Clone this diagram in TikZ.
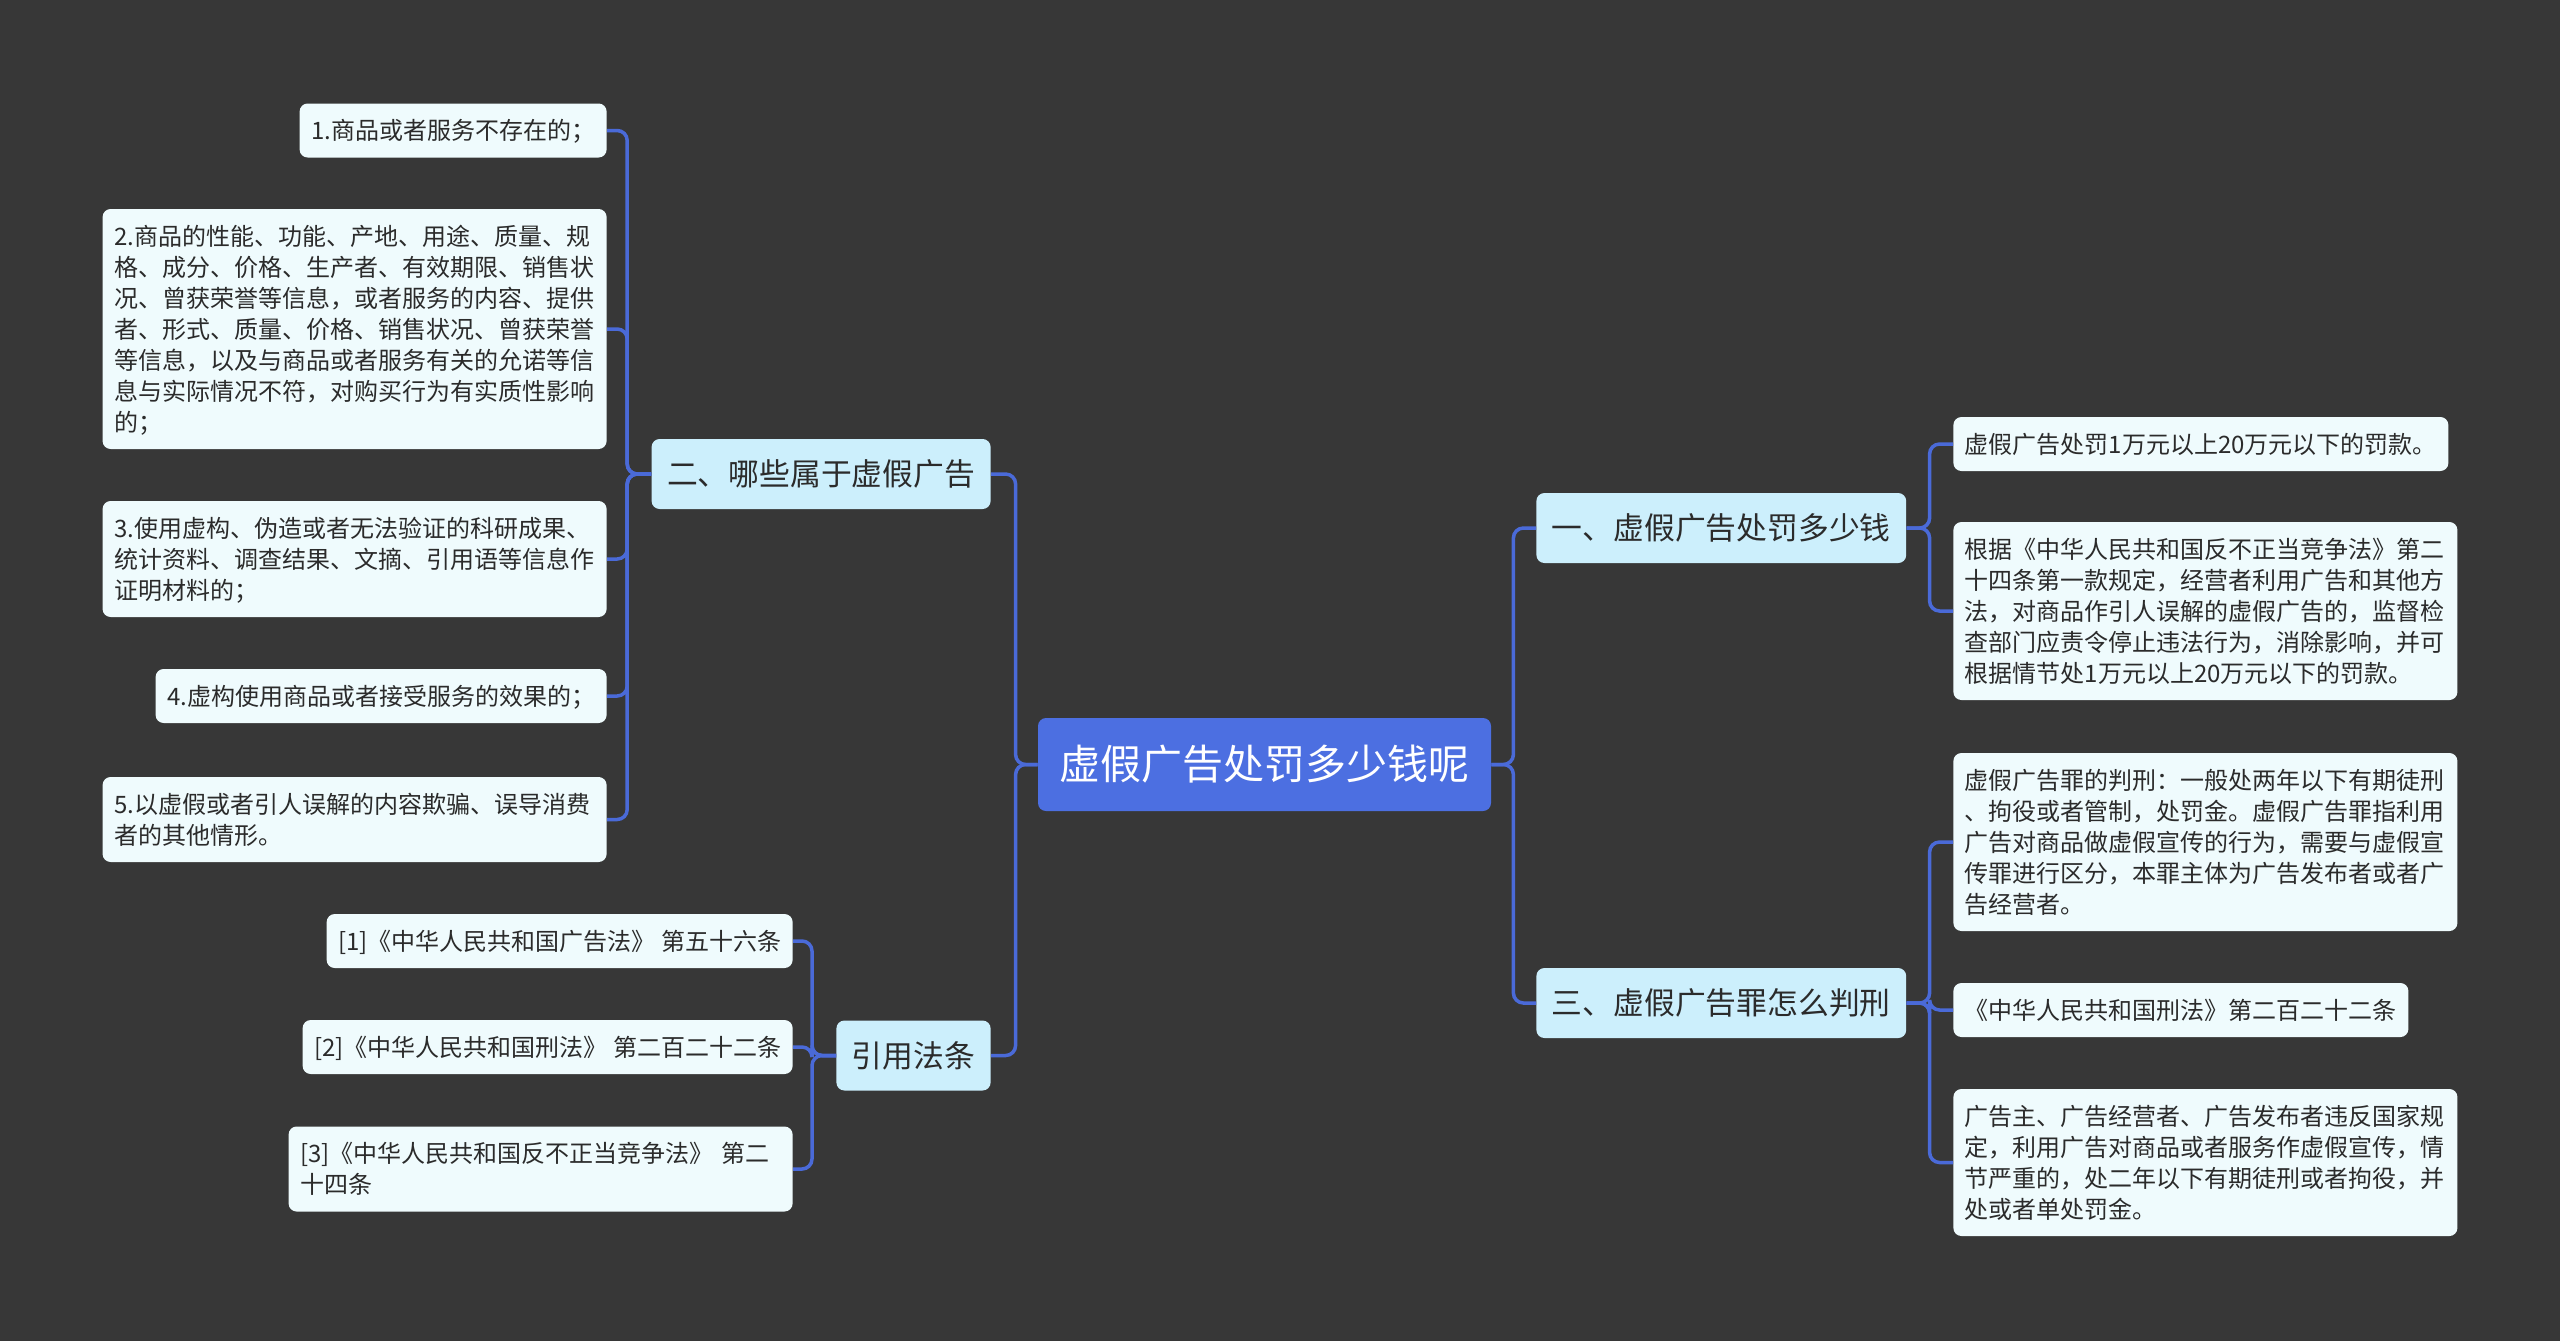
\documentclass[tikz,border=0pt]{standalone}
\usepackage{fontspec}
\setmainfont{Noto Sans CJK SC}
\usepackage{xcolor}
\usepackage{tikz}
\usetikzlibrary{positioning,calc}
\definecolor{bgGray}{HTML}{373737}
\definecolor{rootBlue}{HTML}{4C6FE1}
\definecolor{branchCyan}{HTML}{CCEFFC}
\definecolor{leafWhite}{HTML}{EFFBFD}
\definecolor{lineBlue}{HTML}{4A6AD8}
\definecolor{textDark}{HTML}{2B2B2B}
\newcommand{\linestrut}{\rule[-3.2pt]{0pt}{15.5pt}}

\begin{document}
\begin{tikzpicture}[x=0.5pt,y=-0.5pt,
      rootbox/.style={fill=rootBlue,text=white,rounded corners=4pt,font=\fontsize{20.5}{24}\selectfont,inner xsep=10.75pt,minimum height=46.5pt},
      branch/.style={fill=branchCyan,text=textDark,rounded corners=4pt,font=\fontsize{15.4}{18}\selectfont,inner xsep=7.75pt,minimum height=35pt},
      leaf/.style={fill=leafWhite,text=textDark,rounded corners=4pt,font=\fontsize{12}{15.5}\selectfont,align=left,inner xsep=5.75pt,inner ysep=5.75pt,
        execute at begin node=\linestrut,execute at end node=\linestrut},
      wideleaf/.style={leaf,text width=240.5pt},
      link/.style={draw=lineBlue,line width=1.75pt,rounded corners=5pt}]
    \fill[bgGray] (0,0) rectangle (2560,1341);
    \useasboundingbox (0,0) rectangle (2560,1341);

    \node[rootbox] (root) at (1264.5,764.5) {虚假广告处罚多少钱呢};

    \node[branch,anchor=west] (g1) at (1536,528) {一、虚假广告处罚多少钱};
    \node[branch,anchor=west] (g3) at (1536,1003) {三、虚假广告罪怎么判刑};
    \node[branch,anchor=east] (g2) at (991,474) {二、哪些属于虚假广告};
    \node[branch,anchor=east] (g4) at (991,1055.5) {引用法条};

    \node[leaf,anchor=east] (l1) at (607,130.5) {1.商品或者服务不存在的；};
    \node[wideleaf,anchor=east] (l2) at (607,329) {2.商品的性能、功能、产地、用途、质量、规\\
      格、成分、价格、生产者、有效期限、销售状\\
      况、曾获荣誉等信息，或者服务的内容、提供\\
      者、形式、质量、价格、销售状况、曾获荣誉\\
      等信息，以及与商品或者服务有关的允诺等信\\
      息与实际情况不符，对购买行为有实质性影响\\
      的；};
    \node[wideleaf,anchor=east] (l3) at (607,559) {3.使用虚构、伪造或者无法验证的科研成果、\\
      统计资料、调查结果、文摘、引用语等信息作\\
      证明材料的；};
    \node[leaf,anchor=east] (l4) at (607,696) {4.虚构使用商品或者接受服务的效果的；};
    \node[wideleaf,anchor=east] (l5) at (607,819.5) {5.以虚假或者引人误解的内容欺骗、误导消费\\
      者的其他情形。};

    \node[leaf,anchor=east] (ref1) at (793,941) {[1]《中华人民共和国广告法》 第五十六条};
    \node[leaf,anchor=east] (ref2) at (793,1047) {[2]《中华人民共和国刑法》 第二百二十二条};
    \node[wideleaf,anchor=east] (ref3) at (793,1169) {[3]《中华人民共和国反不正当竞争法》 第二\\
      十四条};

    \node[leaf,anchor=west] (r1) at (1953,444) {虚假广告处罚1万元以上20万元以下的罚款。};
    \node[wideleaf,anchor=west] (r2) at (1953,611) {根据《中华人民共和国反不正当竞争法》第二\\
      十四条第一款规定，经营者利用广告和其他方\\
      法，对商品作引人误解的虚假广告的，监督检\\
      查部门应责令停止违法行为，消除影响，并可\\
      根据情节处1万元以上20万元以下的罚款。};
    \node[wideleaf,anchor=west] (r3) at (1953,842) {虚假广告罪的判刑：一般处两年以下有期徒刑\\
      、拘役或者管制，处罚金。虚假广告罪指利用\\
      广告对商品做虚假宣传的行为，需要与虚假宣\\
      传罪进行区分，本罪主体为广告发布者或者广\\
      告经营者。};
    \node[leaf,anchor=west] (r4) at (1953,1010) {《中华人民共和国刑法》第二百二十二条};
    \node[wideleaf,anchor=west] (r5) at (1953,1162.5) {广告主、广告经营者、广告发布者违反国家规\\
      定，利用广告对商品或者服务作虚假宣传，情\\
      节严重的，处二年以下有期徒刑或者拘役，并\\
      处或者单处罚金。};

    \draw[link] (root.east) -- ++(22,0) |- (g1.west);
    \draw[link] (root.east) -- ++(22,0) |- (g3.west);
    \draw[link] (root.west) -- ++(-22,0) |- (g2.east);
    \draw[link] (root.west) -- ++(-22,0) |- (g4.east);

    \foreach \leafname in {l1,l2,l3,l4,l5}
      \draw[link] (g2.west) -- ++(-24,0) |- (\leafname.east);
    \foreach \leafname in {ref1,ref2,ref3}
      \draw[link] (g4.west) -- ++(-24,0) |- (\leafname.east);
    \foreach \leafname in {r1,r2}
      \draw[link] (g1.east) -- ++(23,0) |- (\leafname.west);
    \foreach \leafname in {r3,r4,r5}
      \draw[link] (g3.east) -- ++(23,0) |- (\leafname.west);
  \end{tikzpicture}
\end{document}
